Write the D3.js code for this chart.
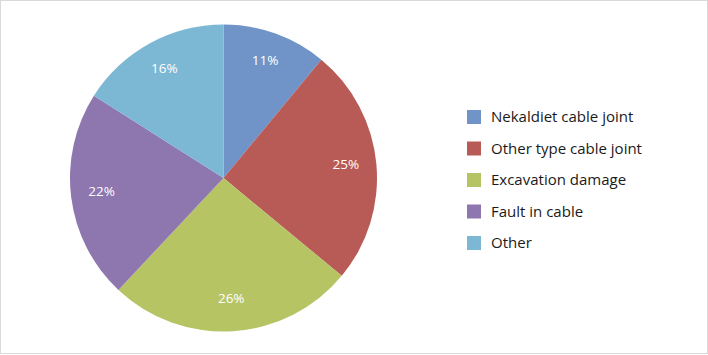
<!DOCTYPE html>
<html>
<head>
<meta charset="utf-8">
<script src="https://cdn.jsdelivr.net/npm/d3@7"></script>
<style>
  body { margin: 0; background: #fff; }
  svg { display: block; font-family: "Open Sans", "Noto Sans", sans-serif; }
</style>
</head>
<body>
<div id="chart"></div>
<script>
const categories = ["Nekaldiet cable joint", "Other type cable joint", "Excavation damage", "Fault in cable", "Other"];
const shares = [11, 25, 26, 22, 16];
const colors = ["#7094C8", "#B85A55", "#B6C464", "#8E76AE", "#7CB8D3"];

const width = 708, height = 355;
const cx = 223.5, cy = 178, radius = 153.5;

const svg = d3.select("#chart").append("svg")
    .attr("width", width)
    .attr("height", height);

// outer frame
svg.append("rect")
    .attr("x", 0.5).attr("y", 0.5)
    .attr("width", width - 1).attr("height", height - 2)
    .attr("fill", "#fff")
    .attr("stroke", "#d9d9d9");

const data = categories.map((c, i) => ({ name: c, value: shares[i], color: colors[i] }));

const pie = d3.pie().value(d => d.value).sort(null);
const arc = d3.arc().innerRadius(0).outerRadius(radius);
const labelArc = d3.arc().innerRadius(radius * 0.8).outerRadius(radius * 0.8);

const g = svg.append("g").attr("transform", `translate(${cx},${cy})`);
const arcs = pie(data);

g.selectAll("path.slice")
    .data(arcs)
    .enter()
    .append("path")
    .attr("class", "slice")
    .attr("d", arc)
    .attr("fill", d => d.data.color);

g.selectAll("text.pct")
    .data(arcs)
    .enter()
    .append("text")
    .attr("class", "pct")
    .attr("transform", d => `translate(${labelArc.centroid(d)})`)
    .attr("text-anchor", "middle")
    .attr("dy", "0.2em")
    .style("font-size", "13.5px")
    .style("fill", "#fff")
    .text(d => d.data.value + "%");

// legend
const legend = svg.append("g").attr("transform", "translate(467,117)");
const rowH = 31.5;
const items = legend.selectAll("g.item")
    .data(data)
    .enter()
    .append("g")
    .attr("class", "item")
    .attr("transform", (d, i) => `translate(0,${i * rowH})`);

items.append("rect")
    .attr("x", 0).attr("y", -7)
    .attr("width", 14).attr("height", 14)
    .attr("fill", d => d.color);

items.append("text")
    .attr("x", 24)
    .attr("dy", "0.35em")
    .style("font-size", "15px")
    .style("fill", "#1a1a1a")
    .text(d => d.name);
</script>
</body>
</html>
